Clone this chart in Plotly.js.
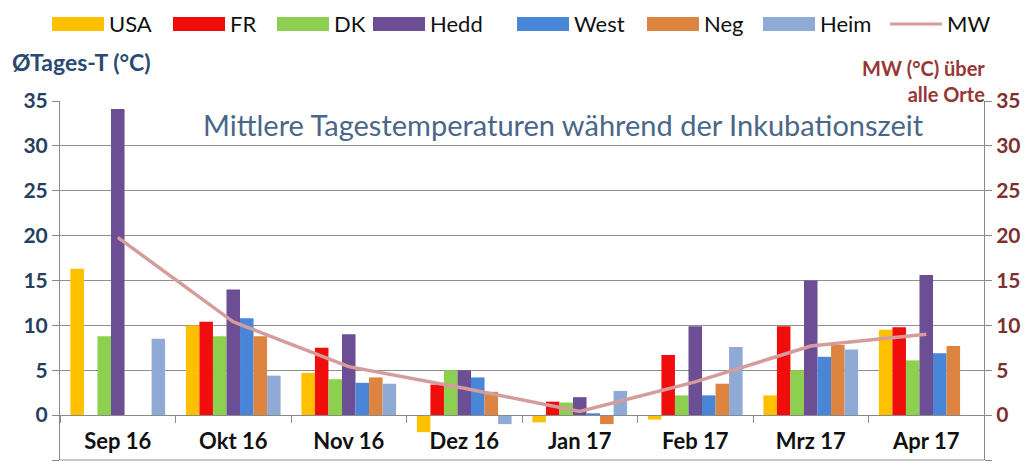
<!DOCTYPE html>
<html><head><meta charset="utf-8">
<script src="https://cdn.plot.ly/plotly-3.0.1.min.js"></script>
<style>html,body{margin:0;padding:0;background:#fff}#chart{width:1034px;height:470px}</style>
</head><body><div id="chart"></div>
<script>
// ---- data ----
const months = ['Sep 16','Okt 16','Nov 16','Dez 16','Jan 17','Feb 17','Mrz 17','Apr 17'];
const usa  = [16.3, 10.0, 4.7, -1.9, -0.8, -0.5, 2.2, 9.5];
const fr   = [null, 10.4, 7.5, 3.4, 1.5, 6.7, 9.9, 9.8];
const dk   = [8.8, 8.8, 4.0, 5.0, 1.4, 2.2, 5.0, 6.1];
const hedd = [34.1, 14.0, 9.0, 5.0, 2.0, 9.9, 15.0, 15.6];
const west = [null, 10.8, 3.6, 4.2, 0.2, 2.2, 6.5, 6.9];
const neg  = [null, 8.8, 4.2, 2.6, -1.0, 3.5, 7.8, 7.7];
const heim = [8.5, 4.4, 3.5, -1.0, 2.7, 7.6, 7.3, null];
const mw   = [19.8, 10.4, 5.4, 3.0, 0.4, 3.7, 7.7, 9.0];
const seriesNames  = ['USA','FR','DK','Hedd','West','Neg','Heim'];
const seriesValues = [usa, fr, dk, hedd, west, neg, heim];
const seriesColors = ['#FFC000','#F20D0D','#8DCF4F','#6B4E94','#4A86D8','#DD8440','#90AAD6'];
const mwName = 'MW';
const mwColor = '#D49C9B';
const yTicks = [-5,0,5,10,15,20,25,30,35];

// ---- layout geometry (pixels) ----
const W = 1034, H = 470, L = 60, R = 984, T = 101, B = 460;
const px = x => (x - L) / (R - L);
const py = y => (B - y) / (B - T);
const FONT = 'Lato, "Open Sans", sans-serif';

const traces = seriesNames.map((n, i) => ({
  type: 'bar', name: n, x: months, y: seriesValues[i],
  marker: {color: seriesColors[i]}, showlegend: false, hoverinfo: 'x+y+name'
}));
traces.push({
  type: 'scatter', mode: 'lines', name: mwName, x: months, y: mw, yaxis: 'y2',
  line: {color: mwColor, width: 3.5}, showlegend: false
});

// custom legend (Excel-like wide swatches)
const legSwatchX = [52, 173, 277, 373, 517, 647, 763];
const legSwatchW = 52;
const shapes = [];
const annotations = [];
seriesNames.forEach((n, i) => {
  shapes.push({type:'rect', xref:'paper', yref:'paper',
    x0: px(legSwatchX[i]), x1: px(legSwatchX[i] + legSwatchW), y0: py(31), y1: py(17),
    fillcolor: seriesColors[i], line: {width: 0}});
  annotations.push({xref:'paper', yref:'paper', x: px(legSwatchX[i] + legSwatchW + 3), y: py(24),
    xanchor:'left', yanchor:'middle', text: n, showarrow:false,
    font:{family: FONT, size: 22, color:'#111'}});
});
shapes.push({type:'line', xref:'paper', yref:'paper', x0: px(890), x1: px(942), y0: py(24), y1: py(24),
  line:{color: mwColor, width: 3}});
annotations.push({xref:'paper', yref:'paper', x: px(945), y: py(24), xanchor:'left', yanchor:'middle',
  text: mwName, showarrow:false, font:{family: FONT, size: 22, color:'#111'}});
// bottom frame line at the lower range edge
shapes.push({type:'line', xref:'paper', yref:'paper', x0: 0, x1: 1, y0: 0, y1: 0,
  line:{color:'#8f8f8f', width: 1}});

// axis titles and chart title
annotations.push({xref:'paper', yref:'paper', x: px(10), y: py(62), xanchor:'left', yanchor:'middle',
  text:'<b>ØTages-T (°C)</b>', showarrow:false, font:{family: FONT, size: 23, color:'#2A4A72'}});
annotations.push({xref:'paper', yref:'paper', x: px(987), y: py(81), xanchor:'right', yanchor:'middle',
  align:'right', text:'<b>MW (°C) über<br>alle Orte</b>', showarrow:false,
  font:{family: FONT, size: 20, color:'#953735'}});
annotations.push({xref:'paper', yref:'paper', x: px(563), y: py(124), xanchor:'center', yanchor:'middle',
  text:'Mittlere Tagestemperaturen während der Inkubationszeit', showarrow:false,
  font:{family: FONT, size: 29, color:'#4A6689'}});

const layout = {
  width: W, height: H,
  margin: {l: L, r: W - R, t: T, b: H - B, pad: 0},
  paper_bgcolor: '#fff', plot_bgcolor: '#fff',
  barmode: 'group', bargap: 0.18, bargroupgap: 0,
  showlegend: false,
  xaxis: {
    type: 'category', anchor: 'free', position: 0.125,
    showline: true, linecolor: '#8a8a8a', linewidth: 1,
    ticks: 'outside', tickson: 'boundaries', ticklen: 7, tickcolor: '#8a8a8a',
    showgrid: false, zeroline: false,
    tickfont: {family: FONT, size: 22, color: '#111', weight: 'bold'},
    ticklabelstandoff: 6
  },
  yaxis: {
    range: [-5, 35], tickvals: yTicks, ticktext: yTicks.map(String),
    showgrid: true, gridcolor: '#8f8f8f', gridwidth: 1, zeroline: false,
    showline: true, linecolor: '#8a8a8a', linewidth: 1,
    ticks: 'outside', ticklen: 7, tickcolor: '#8a8a8a',
    tickfont: {family: FONT, size: 21, color: '#243F60', weight: 'bold'}
  },
  yaxis2: {
    range: [-5, 35], tickvals: yTicks, ticktext: yTicks.map(String),
    overlaying: 'y', side: 'right', showgrid: false, zeroline: false,
    showline: true, linecolor: '#8a8a8a', linewidth: 1,
    ticks: 'outside', ticklen: 7, tickcolor: '#8a8a8a',
    tickfont: {family: FONT, size: 21, color: '#7E2F2E', weight: 'bold'}
  },
  shapes: shapes,
  annotations: annotations
};

Plotly.newPlot('chart', traces, layout, {displayModeBar: false, staticPlot: true});
</script></body></html>
